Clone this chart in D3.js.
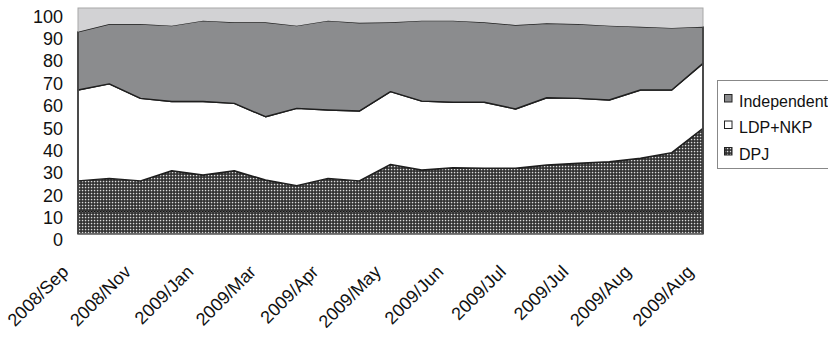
<!DOCTYPE html>
<html>
<head>
<meta charset="utf-8">
<script src="https://cdn.jsdelivr.net/npm/d3@7"></script>
<style>
  html, body { margin: 0; padding: 0; background: #fff; }
  svg { display: block; font-family: "Liberation Sans", Arial, Helvetica, sans-serif; }
</style>
</head>
<body>
<svg id="chart" width="828" height="339"></svg>
<script>
// ---- data ----
const tickLabels = ["2008/Sep","2008/Nov","2009/Jan","2009/Mar","2009/Apr","2009/May","2009/Jun","2009/Jul","2009/Jul","2009/Aug","2009/Aug"];
const dpj = [23.5,24.6,23.5,28.0,26.1,28.0,23.9,21.4,24.6,23.5,30.8,28.3,29.3,29.1,29.1,30.5,31.3,32.0,33.5,36.0,46.8];
const ldpNkp = [40.2,41.8,36.5,30.6,32.5,29.8,28.0,34.2,30.3,30.9,32.2,30.5,29.0,29.2,26.2,29.8,28.7,27.3,30.2,27.7,28.7];
const independent = [25.8,26.5,32.9,33.6,35.8,35.9,41.8,36.6,39.5,39.1,30.7,35.6,36.1,35.4,37.2,32.9,32.9,32.9,28.0,27.5,16.2];
const yTicks = [0,10,20,30,40,50,60,70,80,90,100];
const seriesNames = ["DPJ","LDP+NKP","Independent","Other"];
const legendNames = ["Independent","LDP+NKP","DPJ"];

// ---- build table ----
const rows = dpj.map((d, i) => ({
  i: i,
  "DPJ": d,
  "LDP+NKP": ldpNkp[i],
  "Independent": independent[i],
  "Other": Math.max(0, 100 - d - ldpNkp[i] - independent[i])
}));

const svg = d3.select("#chart");
const M = { left: 78, right: 703, top: 8, bottom: 234 };

const x = d3.scaleLinear().domain([0, rows.length - 1]).range([M.left, M.right]);
const y = d3.scaleLinear().domain([0, 100]).range([M.bottom, M.top]);
const yLab = d3.scaleLinear().domain([0, 100]).range([240, 16.5]);

// pattern for DPJ
const defs = svg.append("defs");
const pat = defs.append("pattern").attr("id", "dots")
  .attr("patternUnits", "userSpaceOnUse").attr("width", 3).attr("height", 3);
pat.append("rect").attr("width", 3).attr("height", 3).attr("fill", "#2a2a2a");
pat.append("rect").attr("x", 0.8).attr("y", 0.8).attr("width", 1.5).attr("height", 1.5).attr("fill", "#dcdcdc");

const stack = d3.stack().keys(seriesNames);
const stacked = stack(rows);

const fills = { "DPJ": "url(#dots)", "LDP+NKP": "#ffffff", "Independent": "#8b8c8e", "Other": "#d2d2d4" };

const area = d3.area()
  .x(d => x(d.data.i))
  .y0(d => y(d[0]))
  .y1(d => y(d[1]));

// areas
svg.append("g").selectAll("path")
  .data(stacked)
  .join("path")
  .attr("d", area)
  .attr("fill", d => fills[d.key])
  .attr("stroke", d => d.key === "Other" ? "none" : "#1e1e1e")
  .attr("stroke-width", 1.4)
  .attr("stroke-linejoin", "round");

// gridline at 10 showing through the pattern
svg.append("line")
  .attr("x1", M.left + 1).attr("x2", M.right - 1)
  .attr("y1", y(10)).attr("y2", y(10))
  .attr("stroke", "#111").attr("stroke-width", 1.2).attr("stroke-dasharray", "1.5,1.5");

// plot border
svg.append("rect")
  .attr("x", M.left).attr("y", M.top)
  .attr("width", M.right - M.left).attr("height", M.bottom - M.top)
  .attr("fill", "none").attr("stroke", "#a8a8a8").attr("stroke-width", 1);
svg.append("line").attr("x1", M.left).attr("x2", M.left)
  .attr("y1", y(100 - rows[0].Other)).attr("y2", M.bottom)
  .attr("stroke", "#333").attr("stroke-width", 1.4);
svg.append("line").attr("x1", M.right).attr("x2", M.right)
  .attr("y1", y(100 - rows[rows.length - 1].Other)).attr("y2", M.bottom)
  .attr("stroke", "#333").attr("stroke-width", 1.4);

// y axis labels
const yAxis = svg.append("g")
  .attr("transform", `translate(63,0)`)
  .call(d3.axisLeft(yLab).tickValues(yTicks).tickSize(0).tickPadding(0).tickFormat(d3.format("d")));
yAxis.select(".domain").remove();
yAxis.selectAll("text")
  .attr("font-size", 18).attr("fill", "#111")
  .attr("font-family", "'Liberation Sans', Arial, sans-serif");

// x axis labels
const xAxis = svg.append("g")
  .attr("transform", `translate(0,${M.bottom})`)
  .call(d3.axisBottom(x).tickValues(tickLabels.map((_, k) => k * 2)).tickSize(0)
    .tickFormat((d) => tickLabels[d / 2]));
xAxis.select(".domain").remove();
xAxis.selectAll("text")
  .attr("font-size", 18).attr("fill", "#111")
  .attr("font-family", "'Liberation Sans', Arial, sans-serif")
  .attr("text-anchor", "end")
  .attr("dy", null)
  .attr("y", null)
  .attr("transform", "translate(-9,39) rotate(-45)");

// legend
const lg = svg.append("g");
lg.append("rect").attr("x", 717.5).attr("y", 80.5).attr("width", 120).attr("height", 88)
  .attr("fill", "#fff").attr("stroke", "#888").attr("stroke-width", 1);
const legFill = { "Independent": "#8b8c8e", "LDP+NKP": "#ffffff", "DPJ": "url(#dots)" };
legendNames.forEach((n, k) => {
  const by = 106.5 + k * 26.5;
  lg.append("rect").attr("x", 724.5).attr("y", by - 12).attr("width", 7.5).attr("height", 7.5)
    .attr("fill", legFill[n]).attr("stroke", "#222").attr("stroke-width", 1);
  lg.append("text").attr("x", 739).attr("y", by).attr("font-size", 16).attr("fill", "#111")
    .text(n);
});
</script>
</body>
</html>
